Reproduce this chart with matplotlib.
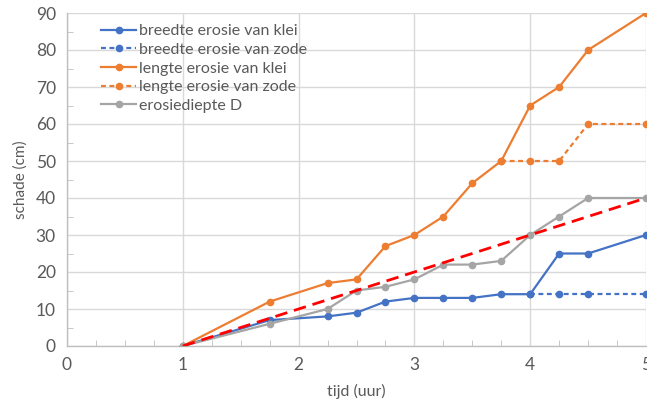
import matplotlib
matplotlib.use("Agg")
import matplotlib.pyplot as plt
from matplotlib.ticker import MultipleLocator

plt.rcParams['font.family'] = ['Lato', 'DejaVu Sans']

tijd = [1, 1.75, 2.25, 2.5, 2.75, 3, 3.25, 3.5, 3.75, 4, 4.25, 4.5, 5]
breedte_klei = [0, 7, 8, 9, 12, 13, 13, 13, 14, 14, 25, 25, 30]
tijd_zode_b = [4, 4.25, 4.5, 5]
breedte_zode = [14, 14, 14, 14]
lengte_klei = [0, 12, 17, 18, 27, 30, 35, 44, 50, 65, 70, 80, 90]
tijd_zode_l = [3.75, 4, 4.25, 4.5, 5]
lengte_zode = [50, 50, 50, 60, 60]
erosiediepte = [0, 6, 10, 15, 16, 18, 22, 22, 23, 30, 35, 40, 40]
trend_x = [1, 5]
trend_y = [0, 40]

blue = '#4472C4'
orange = '#ED7D31'
gray = '#A5A5A5'
txt = '#595959'

fig = plt.figure(figsize=(6.47, 4.05), dpi=100)
ax = fig.add_axes([67/647, 1-346/405, 579/647, 333/405])

ms = 4.5
lw = 1.6
ax.plot(tijd_zode_b, breedte_zode, color=blue, ls=(0, (2.2, 1.6)), lw=lw, marker='o', ms=ms, label='breedte erosie van zode', zorder=3)
ax.plot(tijd_zode_l, lengte_zode, color=orange, ls=(0, (2.2, 1.6)), lw=lw, marker='o', ms=ms, label='lengte erosie van zode', zorder=3)
ax.plot(tijd, breedte_klei, color=blue, lw=lw, marker='o', ms=ms, label='breedte erosie van klei', zorder=4)
ax.plot(tijd, lengte_klei, color=orange, lw=lw, marker='o', ms=ms, label='lengte erosie van klei', zorder=4)
ax.plot(tijd, erosiediepte, color=gray, lw=lw, marker='o', ms=ms, label='erosiediepte D', zorder=4)
ax.plot(trend_x, trend_y, color='#FF0000', lw=2, ls=(0, (4.5, 2.5)), zorder=5)

h, lab = ax.get_legend_handles_labels()
order = ['breedte erosie van klei', 'breedte erosie van zode', 'lengte erosie van klei', 'lengte erosie van zode', 'erosiediepte D']
hd = dict(zip(lab, h))
ax.legend([hd[o] for o in order], order, loc='upper left', bbox_to_anchor=(0.04, 1.0), frameon=False,
          fontsize=11.5, labelcolor=txt, handlelength=2.2, handletextpad=0.15, labelspacing=0.28, borderaxespad=0.3)

ax.set_xlim(0, 5)
ax.set_ylim(0, 90)
ax.xaxis.set_major_locator(MultipleLocator(1))
ax.xaxis.set_minor_locator(MultipleLocator(0.25))
ax.yaxis.set_major_locator(MultipleLocator(10))
ax.yaxis.set_minor_locator(MultipleLocator(5))
ax.grid(True, which='major', color='#D9D9D9', lw=1)
ax.set_axisbelow(True)
for s in ['top', 'right']:
    ax.spines[s].set_visible(False)
for s in ['left', 'bottom']:
    ax.spines[s].set_color('#BFBFBF')
    ax.spines[s].set_linewidth(1)
ax.tick_params(which='major', length=0, labelsize=12.5, labelcolor=txt, pad=8)
ax.tick_params(which='minor', direction='in', length=4, color='#BFBFBF')
ax.set_xlabel('tijd (uur)', fontsize=11.5, color=txt, labelpad=8)
ax.set_ylabel('schade (cm)', fontsize=11, color=txt, labelpad=6)

fig.savefig('out.png', dpi=100)
